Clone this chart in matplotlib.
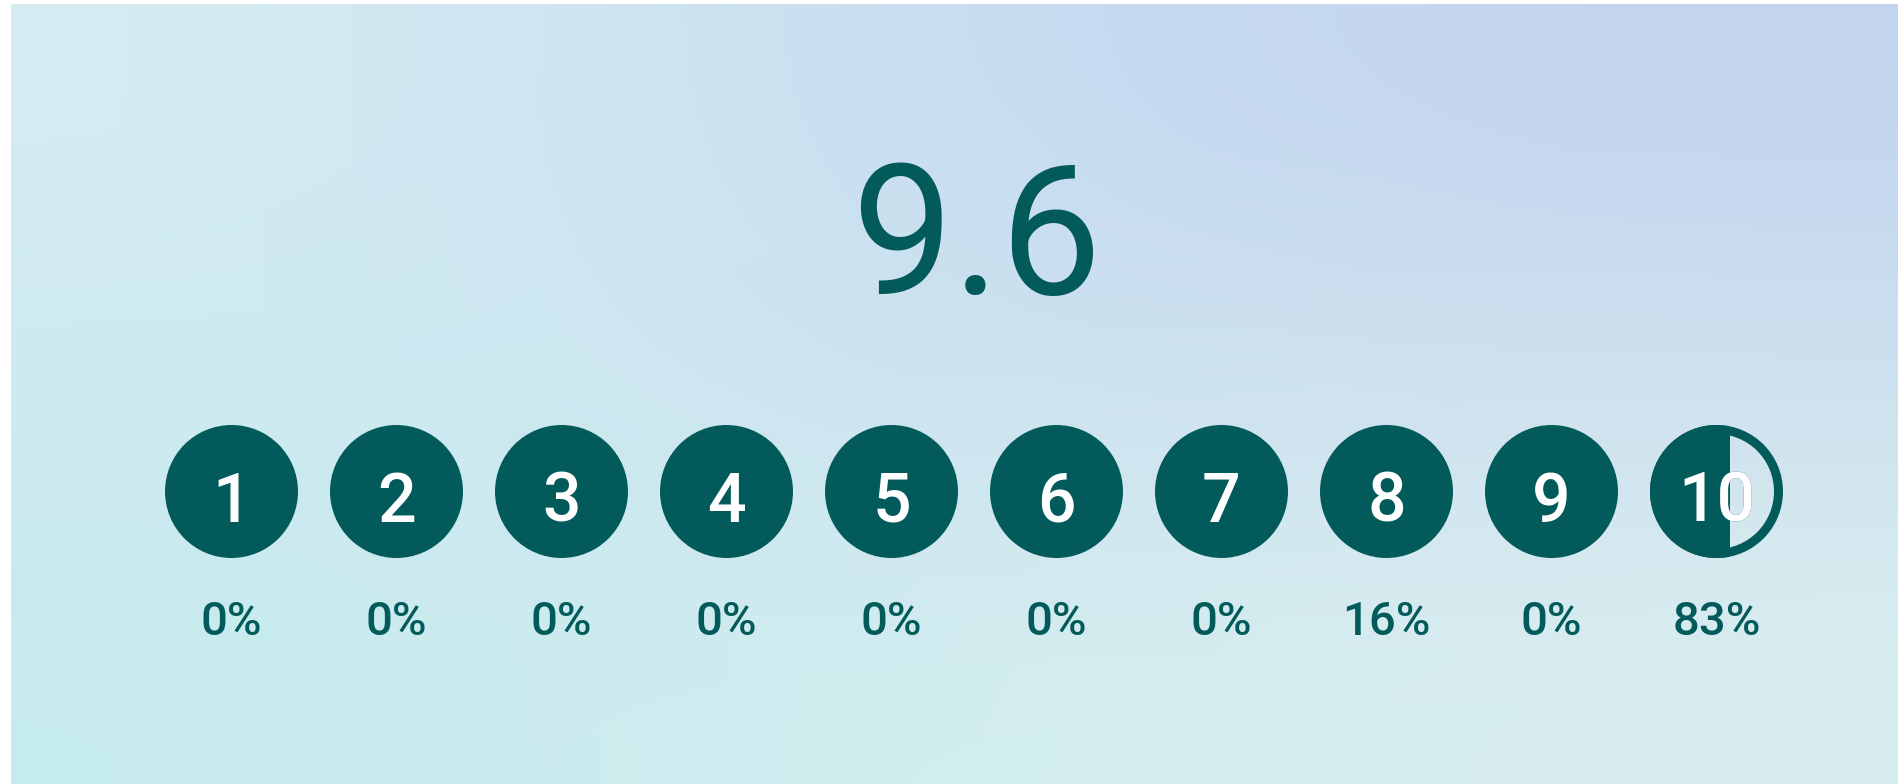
import numpy as np
import matplotlib.pyplot as plt
from matplotlib.patches import Circle, Rectangle
from matplotlib.colors import to_rgb

# rating data
score = 9.6
ratings = [1, 2, 3, 4, 5, 6, 7, 8, 9, 10]
percents = [0, 0, 0, 0, 0, 0, 0, 16, 0, 83]

teal = "#035a5b"
font = "Roboto"

W, H = 1898, 784
fig = plt.figure(figsize=[W / 100, H / 100], dpi=100)
fig.patch.set_facecolor("white")

# axes leaves a thin white strip at left and top like the screenshot
ax_l, ax_t = 11, 4
ax = fig.add_axes([ax_l / W, 0, (W - ax_l) / W, (H - ax_t) / H])
ax.set_axis_off()

step = 165.0          # px between circle centres
row_y = 491.5         # circle row, px from figure top
x0_px = 231.5 - ax_l  # first centre, px inside axes
y0_px = row_y - ax_t
aw, ah = W - ax_l, H - ax_t
ax.set_xlim(1 - x0_px / step, 1 + (aw - x0_px) / step)
ax.set_ylim(-(ah - y0_px) / step, y0_px / step)
ax.set_aspect("equal")

# soft background gradient
grid = [["#d5ecf2", "#c6dcf0", "#c3d4ee"],
        ["#cdebf0", "#cde2ef", "#d0e2ef"],
        ["#c6ebee", "#d3eef0", "#d9eeef"]]
bg = np.array([[to_rgb(c) for c in row] for row in grid])
xl, yl = ax.get_xlim(), ax.get_ylim()
ax.imshow(bg, extent=[xl[0], xl[1], yl[0], yl[1]], interpolation="bicubic",
          aspect="auto", zorder=0)
ax.set_xlim(xl)
ax.set_ylim(yl)

r = 66.5 / step
ring = 9 / step
num_y = (row_y - 522) / step
pct_y = (row_y - 635) / step

# big average score
ax.text(5.5 + (976 - (231.5 + 4.5 * step)) / step, (row_y - 294) / step,
        "{:.1f}".format(score), ha="center", va="baseline", color=teal,
        fontsize=130, family=font, fontweight="normal")

for k, pct in zip(ratings, percents):
    fill = min(max(score - (k - 1), 0), 1)
    if fill >= 1:
        ax.add_patch(Circle((k, 0), r, color=teal, lw=0, zorder=2))
        ax.text(k, num_y, str(k), ha="center", va="baseline", color="white",
                fontsize=49, family=font, fontweight="medium", zorder=3)
    else:
        ax.add_patch(Circle((k, 0), r - ring / 2, facecolor="none",
                            edgecolor=teal, lw=ring * step * 0.72, zorder=2))
        clip = Rectangle((k - r, -r), 2 * r * fill, 2 * r, transform=ax.transData)
        disk = Circle((k, 0), r, color=teal, lw=0, zorder=2)
        ax.add_patch(disk)
        disk.set_clip_path(clip)
        ax.text(k, num_y, str(k), ha="center", va="baseline", color=teal,
                fontsize=49, family=font, fontweight="medium", zorder=3)
        t = ax.text(k, num_y, str(k), ha="center", va="baseline", color="white",
                    fontsize=49, family=font, fontweight="medium", zorder=4)
        t.set_clip_path(clip)
    ax.text(k, pct_y, "{}%".format(pct), ha="center", va="baseline",
            color=teal, fontsize=34, family=font, fontweight="medium")

fig.savefig("out.png", dpi=100)
